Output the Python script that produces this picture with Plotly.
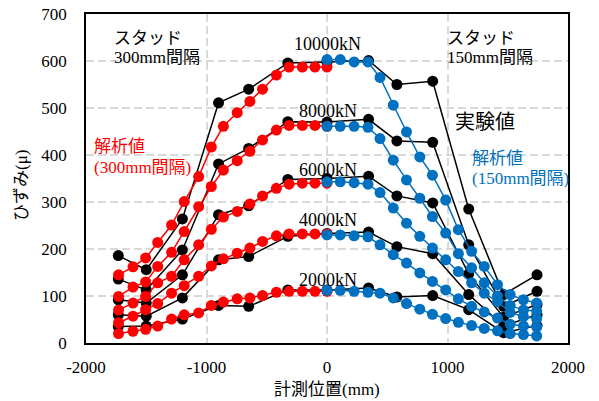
import plotly.graph_objects as go

# measurement positions (mm)
x_exp = [-1732, -1500, -1200, -900, -650, -325, 0, 345, 580, 877, 1176, 1465, 1743]
x_left = [-1730, -1610, -1505, -1405, -1290, -1185, -1065, -960, -860, -745, -640, -535, -420, -315, -205, -100, 0]
x_right = [0, 110, 225, 340, 440, 550, 660, 770, 875, 985, 1090, 1200, 1305, 1415, 1520, 1630, 1740]

loads = ["2000kN", "4000kN", "6000kN", "8000kN", "10000kN"]

# experimental strain (black)
exp_2000 = [35, 36, 51, 80, 78, 113, 113, 117, 98, 101, 71, 22, 37]
exp_4000 = [60, 57, 96, 177, 184, 227, 233, 236, 205, 190, 103, 36, 60]
exp_6000 = [92, 85, 145, 273, 292, 348, 350, 355, 313, 298, 147, 55, 82]
exp_8000 = [136, 113, 198, 381, 414, 471, 470, 476, 430, 427, 209, 78, 110]
exp_10000 = [186, 156, 264, 511, 540, 596, 598, 601, 550, 557, 285, 103, 145]

# analysis, stud 300mm spacing (red)
left_2000 = [20, 25, 29, 36, 51, 60, 64, 80, 87, 94, 96, 101, 108, 110, 110, 110, 110]
left_4000 = [43, 57, 71, 84, 106, 122, 142, 164, 179, 191, 202, 216, 228, 232, 232, 232, 232]
left_6000 = [70, 85, 99, 128, 142, 177, 209, 242, 268, 280, 296, 313, 329, 338, 340, 340, 340]
left_8000 = [99, 119, 130, 163, 193, 237, 290, 333, 368, 388, 408, 432, 453, 463, 463, 463, 461]
left_10000 = [145, 162, 181, 214, 251, 301, 354, 417, 461, 490, 514, 540, 570, 587, 587, 587, 587]

# analysis, stud 150mm spacing (blue)
right_2000 = [112, 112, 110, 108, 106, 96, 84, 72, 61, 52, 44, 37, 31, 26, 20, 18, 15]
right_4000 = [230, 230, 228, 226, 209, 188, 170, 149, 131, 113, 94, 78, 66, 53, 40, 36, 34]
right_6000 = [343, 343, 341, 338, 320, 287, 255, 227, 202, 177, 152, 128, 106, 88, 65, 56, 52]
right_8000 = [461, 461, 461, 459, 435, 389, 347, 308, 269, 234, 190, 160, 128, 100, 80, 70, 68]
right_10000 = [603, 603, 598, 598, 565, 506, 449, 396, 357, 304, 241, 195, 163, 124, 103, 92, 85]

exp_all = [exp_2000, exp_4000, exp_6000, exp_8000, exp_10000]
left_all = [left_2000, left_4000, left_6000, left_8000, left_10000]
right_all = [right_2000, right_4000, right_6000, right_8000, right_10000]

# load label positions (data units)
label_y = [133, 262, 368, 493, 637]

SERIF = "'Liberation Serif', 'Times New Roman', 'Noto Sans CJK JP', serif"
BLACK = "#000000"
RED = "#FF0000"
BLUE = "#0070C0"

fig = go.Figure()
mk = 11
lw = 1.5
for ys in exp_all:
    fig.add_trace(go.Scatter(x=x_exp, y=ys, mode="lines+markers",
                             line=dict(color=BLACK, width=lw),
                             marker=dict(color=BLACK, size=mk), showlegend=False))
for ys in left_all:
    fig.add_trace(go.Scatter(x=x_left, y=ys, mode="lines+markers",
                             line=dict(color=RED, width=lw),
                             marker=dict(color=RED, size=mk), showlegend=False))
for ys in right_all:
    fig.add_trace(go.Scatter(x=x_right, y=ys, mode="lines+markers",
                             line=dict(color=BLUE, width=lw),
                             marker=dict(color=BLUE, size=mk), showlegend=False))

annotations = []
for name, yy in zip(loads, label_y):
    annotations.append(dict(x=5, y=yy, xref="x", yref="y", text=name, showarrow=False,
                            font=dict(family=SERIF, size=18, color="#000000"),
                            xanchor="center", yanchor="middle"))

def paper(px, py):
    return (px - 86) / 482.0, (343.5 - py) / 330.0

def add_text(px, py, text, color, size, xanchor="left"):
    xp, yp = paper(px, py)
    annotations.append(dict(x=xp, y=yp, xref="paper", yref="paper", text=text,
                            showarrow=False, xanchor=xanchor, yanchor="middle",
                            align="left", font=dict(family=SERIF, size=size, color=color)))

add_text(112, 38, "スタッド", "#000000", 17)
add_text(112, 57, "300mm間隔", "#000000", 17)
add_text(445, 38, "スタッド", "#000000", 17)
add_text(445, 57, "150mm間隔", "#000000", 17)
add_text(453, 122, "実験値", "#000000", 20)
add_text(92, 146, "解析値", RED, 17)
add_text(92, 167, "(300mm間隔)", RED, 17)
add_text(470, 158, "解析値", BLUE, 17)
add_text(470, 178, "(150mm間隔)", BLUE, 17)

# axis titles
xp, yp = paper(22, 186)
annotations.append(dict(x=xp, y=yp, xref="paper", yref="paper", text="ひずみ(μ)",
                        textangle=-90, showarrow=False, xanchor="center", yanchor="middle",
                        font=dict(family=SERIF, size=17, color="#000000")))
xp, yp = paper(327, 390)
annotations.append(dict(x=xp, y=yp, xref="paper", yref="paper", text="計測位置(mm)",
                        showarrow=False, xanchor="center", yanchor="middle",
                        font=dict(family=SERIF, size=17, color="#000000")))

fig.update_layout(
    template="none",
    width=599, height=401,
    margin=dict(l=86, r=31, t=13.5, b=57.5, pad=0),
    paper_bgcolor="white", plot_bgcolor="white",
    annotations=annotations,
    xaxis=dict(range=[-2000, 2000], tickvals=[-2000, -1000, 0, 1000, 2000],
               ticktext=["-2000", "-1000", "0", "1000", "2000"],
               showgrid=True, gridcolor="#D9D9D9", gridwidth=1.5, griddash="8px,4px",
               showline=True, linecolor="black", linewidth=1.5, mirror=True,
               ticks="", zeroline=False, ticklabelstandoff=8, automargin=False,
               tickfont=dict(family=SERIF, size=17, color="black")),
    yaxis=dict(range=[0, 700], tickvals=[0, 100, 200, 300, 400, 500, 600, 700],
               showgrid=True, gridcolor="#D9D9D9", gridwidth=1.5, griddash="8px,4px",
               showline=True, linecolor="black", linewidth=1.5, mirror=True,
               ticks="", zeroline=False, ticklabelstandoff=14, automargin=False,
               tickfont=dict(family=SERIF, size=17, color="black")),
)

fig.write_html("out.html")
